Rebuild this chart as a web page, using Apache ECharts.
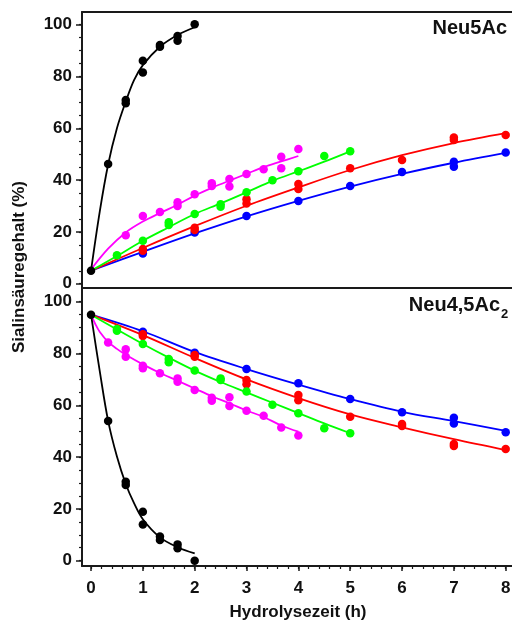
<!DOCTYPE html>
<html><head><meta charset="utf-8">
<script src="https://cdn.jsdelivr.net/npm/echarts@6/dist/echarts.min.js"></script>
<style>html,body{margin:0;padding:0;background:#fff}#c{width:512px;height:620px}</style>
</head><body><div id="c"></div>
<script>
// ---- tick labels / texts ----
const xTickLabels = [0, 1, 2, 3, 4, 5, 6, 7, 8];
const yTickLabels = [0, 20, 40, 60, 80, 100];
const xTitle = 'Hydrolysezeit (h)';
const yTitle = 'Sialinsäuregehalt (%)';
const topPanelName = 'Neu5Ac';
const botPanelName = 'Neu4,5Ac';
const botPanelSub = '2';

// ---- Neu5Ac (top panel): measured points ----
const topBlackPts = [[0,5],[0.33,46.2],[0.67,70.9],[0.67,69.7],[1,86.1],[1,81.5],[1.33,92.2],[1.33,91.5],[1.67,95.6],[1.67,93.8],[2,100.2]];
const topMagentaPts = [[0.67,18.7],[1,26.1],[1.33,27.7],[1.67,31.4],[1.67,30.0],[2,34.5],[2.33,38.8],[2.33,37.7],[2.67,40.4],[2.67,37.5],[3,42.4],[3.33,44.2],[3.67,49.0],[3.67,44.6],[4,52.0]];
const topGreenPts = [[0.5,11.0],[1,16.6],[1.5,23.7],[1.5,22.7],[2,26.9],[2.5,30.7],[2.5,29.7],[3,35.3],[3.5,39.9],[4,43.4],[4.5,49.3],[5,51.1]];
const topRedPts = [[1,13.4],[1,12.7],[2,21.6],[2,20.7],[3,32.6],[3,31.0],[4,38.5],[4,36.6],[5,44.6],[6,47.8],[7,56.4],[7,55.5],[8,57.4]];
const topBluePts = [[1,11.7],[2,19.8],[3,26.1],[4,31.9],[5,37.7],[6,43.1],[7,47.1],[7,45.2],[8,50.7]];
// fitted curves
const topBlackFit = [[0,5],[0.17,28],[0.33,46],[0.5,60],[0.67,70.3],[0.83,78.6],[1,84.4],[1.33,91.5],[1.67,96],[2,99]];
const topMagentaFit = [[0,5.5],[0.33,13.5],[0.67,19.8],[1,24],[1.33,27.3],[1.67,30.5],[2,34],[2.33,37],[2.67,39.8],[3,42.4],[3.33,45],[3.67,47.2],[4,49.3]];
const topGreenFit = [[0,5],[0.5,10.7],[1,16.6],[1.5,21.8],[2,26.9],[2.5,31],[3,35.3],[3.5,39.7],[4,43.4],[4.5,47.1],[5,51.1]];
const topRedFit = [[0,5],[1,13.8],[2,22.2],[3,30.1],[4,37.2],[5,43.9],[6,49.6],[7,54.3],[8,58.1]];
const topBlueFit = [[0,5],[1,12.3],[2,19.4],[3,26],[4,32],[5,37.5],[6,42.4],[7,46.7],[8,50.5]];

// ---- Neu4,5Ac2 (bottom panel): measured points ----
const botBlackPts = [[0,95],[0.33,53.9],[0.67,30.5],[0.67,29.2],[1,18.9],[1,14.0],[1.33,9.3],[1.33,8.0],[1.67,6.3],[1.67,4.8],[2,0]];
const botMagentaPts = [[0.33,84.3],[0.67,81.6],[0.67,78.8],[1,75.3],[1,74.3],[1.33,72.4],[1.67,70.4],[1.67,69.1],[2,65.9],[2.33,62.9],[2.33,61.8],[2.67,63.1],[2.67,59.7],[3,57.9],[3.33,56.0],[3.67,51.4],[4,48.3]];
const botGreenPts = [[0.5,89.5],[0.5,88.8],[1,83.7],[1.5,77.9],[1.5,76.6],[2,73.4],[2.5,70.4],[2.5,69.8],[3,65.3],[3.5,60.2],[4,56.9],[4.5,51.1],[5,49.2]];
const botRedPts = [[1,87.4],[1,86.8],[2,79.4],[2,78.8],[3,69.8],[3,68.1],[4,64.0],[4,62.0],[5,55.6],[6,52.8],[6,52.0],[7,45.1],[7,44.3],[8,43.1]];
const botBluePts = [[1,88.4],[2,80.3],[3,74.0],[4,68.5],[5,62.4],[6,57.3],[7,55.2],[7,53.0],[8,49.6]];
const botBlackFit = [[0,95],[0.17,73],[0.33,54],[0.5,40.2],[0.67,29.6],[0.83,22.2],[1,16],[1.33,9],[1.67,5.2],[2,2.8]];
const botMagentaFit = [[0,95],[0.08,91.5],[0.17,88.3],[0.33,84.5],[0.5,81.8],[0.67,79.5],[1,75.8],[1.33,72.5],[1.67,69.5],[2,66.5],[2.33,63.5],[2.67,60.8],[3,58],[3.33,55.5],[3.67,52.2],[4,49.8]];
const botGreenFit = [[0,95],[0.5,89.3],[1,83.7],[1.5,78.4],[2,73.4],[2.5,69],[3,65],[3.5,61],[4,57],[4.5,53],[5,49.2]];
const botRedFit = [[0,95],[1,87.1],[2,78.3],[3,70],[4,62.8],[5,56.5],[6,51.5],[7,46.9],[8,42.7]];
const botBlueFit = [[0,95],[1,88.6],[2,80.6],[3,74],[4,68],[5,62.4],[6,57.5],[7,53.9],[8,50.1]];

const COLORS = {black:'#000000', magenta:'#ff00ff', green:'#00ff00', red:'#ff0000', blue:'#0000ff'};

const FONT = '"Liberation Sans", Arial, Helvetica, sans-serif';
const AX = '#1a1a1a';
const X_MIN = -0.174, X_MAX = 8.16;
const xMinor = []; for (let i = 0; i <= 40; i++) xMinor.push(+(i * 0.2).toFixed(1));
const yMinor = []; for (let v = 0; v <= 100; v += 5) yMinor.push(v);

function yAxes(gridIndex, min, max) {
  return [
    { type:'value', gridIndex, min, max, position:'left',
      axisLine:{show:true, onZero:false, lineStyle:{color:AX, width:2}},
      axisTick:{show:true, length:6, customValues: yTickLabels, lineStyle:{color:AX, width:1.5}},
      axisLabel:{show:true, customValues: yTickLabels, margin:10, color:'#111', fontSize:17, fontWeight:'bold', fontFamily:FONT},
      splitLine:{show:false} },
    { type:'value', gridIndex, min, max, position:'left',
      axisLine:{show:false, onZero:false},
      axisTick:{show:true, length:3, customValues: yMinor, lineStyle:{color:AX, width:1.2}},
      axisLabel:{show:false}, splitLine:{show:false} }
  ];
}

function pair(name, fit, pts, color, xi, yi) {
  return [
    { name: name + ' fit', type:'line', xAxisIndex:xi, yAxisIndex:yi, data:fit, smooth:0.35,
      showSymbol:false, symbol:'none', lineStyle:{color, width:1.8}, z:2, animation:false, silent:true },
    { name: name, type:'scatter', xAxisIndex:xi, yAxisIndex:yi, data:pts, symbol:'circle', symbolSize:8.5,
      itemStyle:{color, opacity:1}, z:3, animation:false, silent:true }
  ];
}

const series = [].concat(
  pair('top blue', topBlueFit, topBluePts, COLORS.blue, 0, 0),
  pair('top red', topRedFit, topRedPts, COLORS.red, 0, 0),
  pair('top green', topGreenFit, topGreenPts, COLORS.green, 0, 0),
  pair('top magenta', topMagentaFit, topMagentaPts, COLORS.magenta, 0, 0),
  pair('top black', topBlackFit, topBlackPts, COLORS.black, 0, 0),
  pair('bot blue', botBlueFit, botBluePts, COLORS.blue, 1, 2),
  pair('bot red', botRedFit, botRedPts, COLORS.red, 1, 2),
  pair('bot green', botGreenFit, botGreenPts, COLORS.green, 1, 2),
  pair('bot magenta', botMagentaFit, botMagentaPts, COLORS.magenta, 1, 2),
  pair('bot black', botBlackFit, botBlackPts, COLORS.black, 1, 2)
);

const option = {
  backgroundColor:'#ffffff',
  animation:false,
  grid:[
    {left:82, top:12, width:432, height:276, show:false, outerBoundsMode:'none', containLabel:false},
    {left:82, top:288, width:432, height:278, show:false, outerBoundsMode:'none', containLabel:false}
  ],
  xAxis:[
    { type:'value', gridIndex:0, min:X_MIN, max:X_MAX, position:'bottom',
      axisLine:{show:true, onZero:false, lineStyle:{color:AX, width:2}}, axisTick:{show:false}, axisLabel:{show:false}, splitLine:{show:false} },
    { type:'value', gridIndex:1, min:X_MIN, max:X_MAX, position:'bottom',
      axisLine:{show:true, onZero:false, lineStyle:{color:AX, width:2}},
      axisTick:{show:true, length:5, customValues:xTickLabels, lineStyle:{color:AX, width:1.5}},
      axisLabel:{show:true, customValues:xTickLabels, margin:14, color:'#111', fontSize:17, fontWeight:'bold', fontFamily:FONT},
      splitLine:{show:false},
      name:xTitle, nameLocation:'middle', nameGap:38,
      nameTextStyle:{color:'#111', fontSize:17, fontWeight:'bold', fontFamily:FONT} },
    { type:'value', gridIndex:1, min:X_MIN, max:X_MAX, position:'bottom',
      axisLine:{show:false, onZero:false},
      axisTick:{show:true, length:3, customValues:xMinor, lineStyle:{color:AX, width:1.2}},
      axisLabel:{show:false}, splitLine:{show:false} },
    { type:'value', gridIndex:0, min:X_MIN, max:X_MAX, position:'top',
      axisLine:{show:true, onZero:false, lineStyle:{color:AX, width:2}}, axisTick:{show:false}, axisLabel:{show:false}, splitLine:{show:false} }
  ],
  yAxis:[].concat(yAxes(0, -1.66, 104.9), yAxes(1, -2.05, 105.3)),
  graphic:[
    { type:'text', x:19, y:267, rotation:Math.PI/2, style:{text:yTitle, font:'bold 17px ' + FONT, fill:'#111', textAlign:'center', textVerticalAlign:'middle'} },
    { type:'text', x:507, y:28, style:{text:topPanelName, font:'bold 20px ' + FONT, fill:'#111', textAlign:'right', textVerticalAlign:'middle'} },
    { type:'text', x:500, y:305, style:{text:botPanelName, font:'bold 20px ' + FONT, fill:'#111', textAlign:'right', textVerticalAlign:'middle'} },
    { type:'text', x:501, y:314, style:{text:botPanelSub, font:'bold 13px ' + FONT, fill:'#111', textAlign:'left', textVerticalAlign:'middle'} }
  ],
  series
};

const chart = echarts.init(document.getElementById('c'), null, {renderer:'canvas'});
chart.setOption(option);
</script>
</body></html>
